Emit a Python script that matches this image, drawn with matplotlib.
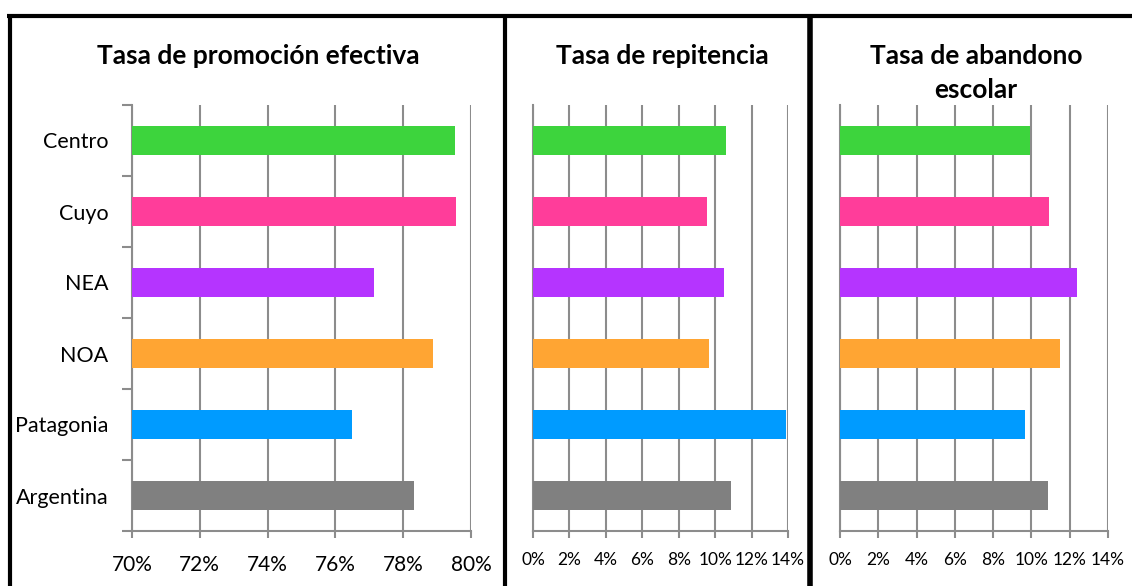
import matplotlib.pyplot as plt
from matplotlib.lines import Line2D
from matplotlib.ticker import FuncFormatter

plt.rcParams['font.family'] = ['Lato', 'DejaVu Sans']

regiones = ["Centro", "Cuyo", "NEA", "NOA", "Patagonia", "Argentina"]
colores = ["#3DD43D", "#FF3D9A", "#B534FF", "#FFA533", "#009BFF", "#808080"]

promocion = [79.53, 79.56, 77.15, 78.88, 76.50, 78.32]
repitencia = [10.6, 9.56, 10.49, 9.67, 13.9, 10.88]
abandono = [9.9, 10.9, 12.37, 11.47, 9.66, 10.84]

titulos = ["Tasa de promoción efectiva", "Tasa de repitencia", "Tasa de abandono\nescolar"]

W, H = 1132, 586
fig = plt.figure(figsize=(W / 100, H / 100), dpi=100)

GRID = "#8c8c8c"


def px_axes(x0, x1, y0, y1):
    return fig.add_axes([x0 / W, 1 - y1 / H, (x1 - x0) / W, (y1 - y0) / H])


def panel(ax, values, xlim, ticks, labelsize, show_labels, xpad):
    pos = range(len(regiones))
    ax.barh(pos, values, height=0.41, color=colores, left=xlim[0], zorder=3)
    ax.set_xlim(*xlim)
    ax.set_ylim(len(regiones) - 0.5, -0.5)
    ax.set_xticks(ticks)
    ax.xaxis.set_major_formatter(FuncFormatter(lambda v, p: f"{v:.0f}%"))
    ax.grid(axis="x", color=GRID, linewidth=1.5, zorder=0)
    for s in ["top", "right"]:
        ax.spines[s].set_visible(False)
    for s in ["left", "bottom"]:
        ax.spines[s].set_color(GRID)
        ax.spines[s].set_linewidth(1.5)
    ax.tick_params(axis="x", length=5, width=1.5, color=GRID, labelsize=labelsize, pad=xpad)
    if show_labels:
        ax.set_yticks(list(pos))
        ax.set_yticklabels(regiones, fontsize=15.5)
        ax.tick_params(axis="y", which="major", length=0, pad=17)
        ax.set_yticks([i - 0.5 for i in range(len(regiones) + 1)], minor=True)
        ax.tick_params(axis="y", which="minor", length=7, width=1.5, color=GRID)
    else:
        ax.set_yticks([])


ax1 = px_axes(132, 471, 105, 531)
panel(ax1, [v - 70 for v in promocion], (70, 80), range(70, 81, 2), 15, True, 12)

ax2 = px_axes(533, 788, 105, 531)
panel(ax2, repitencia, (0, 14), range(0, 15, 2), 12.5, False, 10)

ax3 = px_axes(840, 1108, 105, 531)
panel(ax3, abandono, (0, 14), range(0, 15, 2), 12.5, False, 10)

# titles
fig.text(258 / W, 1 - 56 / H, titulos[0], ha="center", va="center", fontsize=19, fontweight="bold")
fig.text(662 / W, 1 - 56 / H, titulos[1], ha="center", va="center", fontsize=19, fontweight="bold")
fig.text(976 / W, 1 - 73 / H, titulos[2], ha="center", va="center", fontsize=19, fontweight="bold",
         linespacing=1.45)

# panel borders
def line(xs, ys, lw=3):
    fig.add_artist(Line2D([x / W for x in xs], [1 - y / H for y in ys], color="black", linewidth=lw,
                          solid_capstyle="butt"))

line([7, W], [15.5, 15.5])
line([9.5, 9.5], [14, H])
line([505, 505], [14, H])
line([810, 810], [14, H], lw=4)

fig.savefig("out.png", dpi=100)
